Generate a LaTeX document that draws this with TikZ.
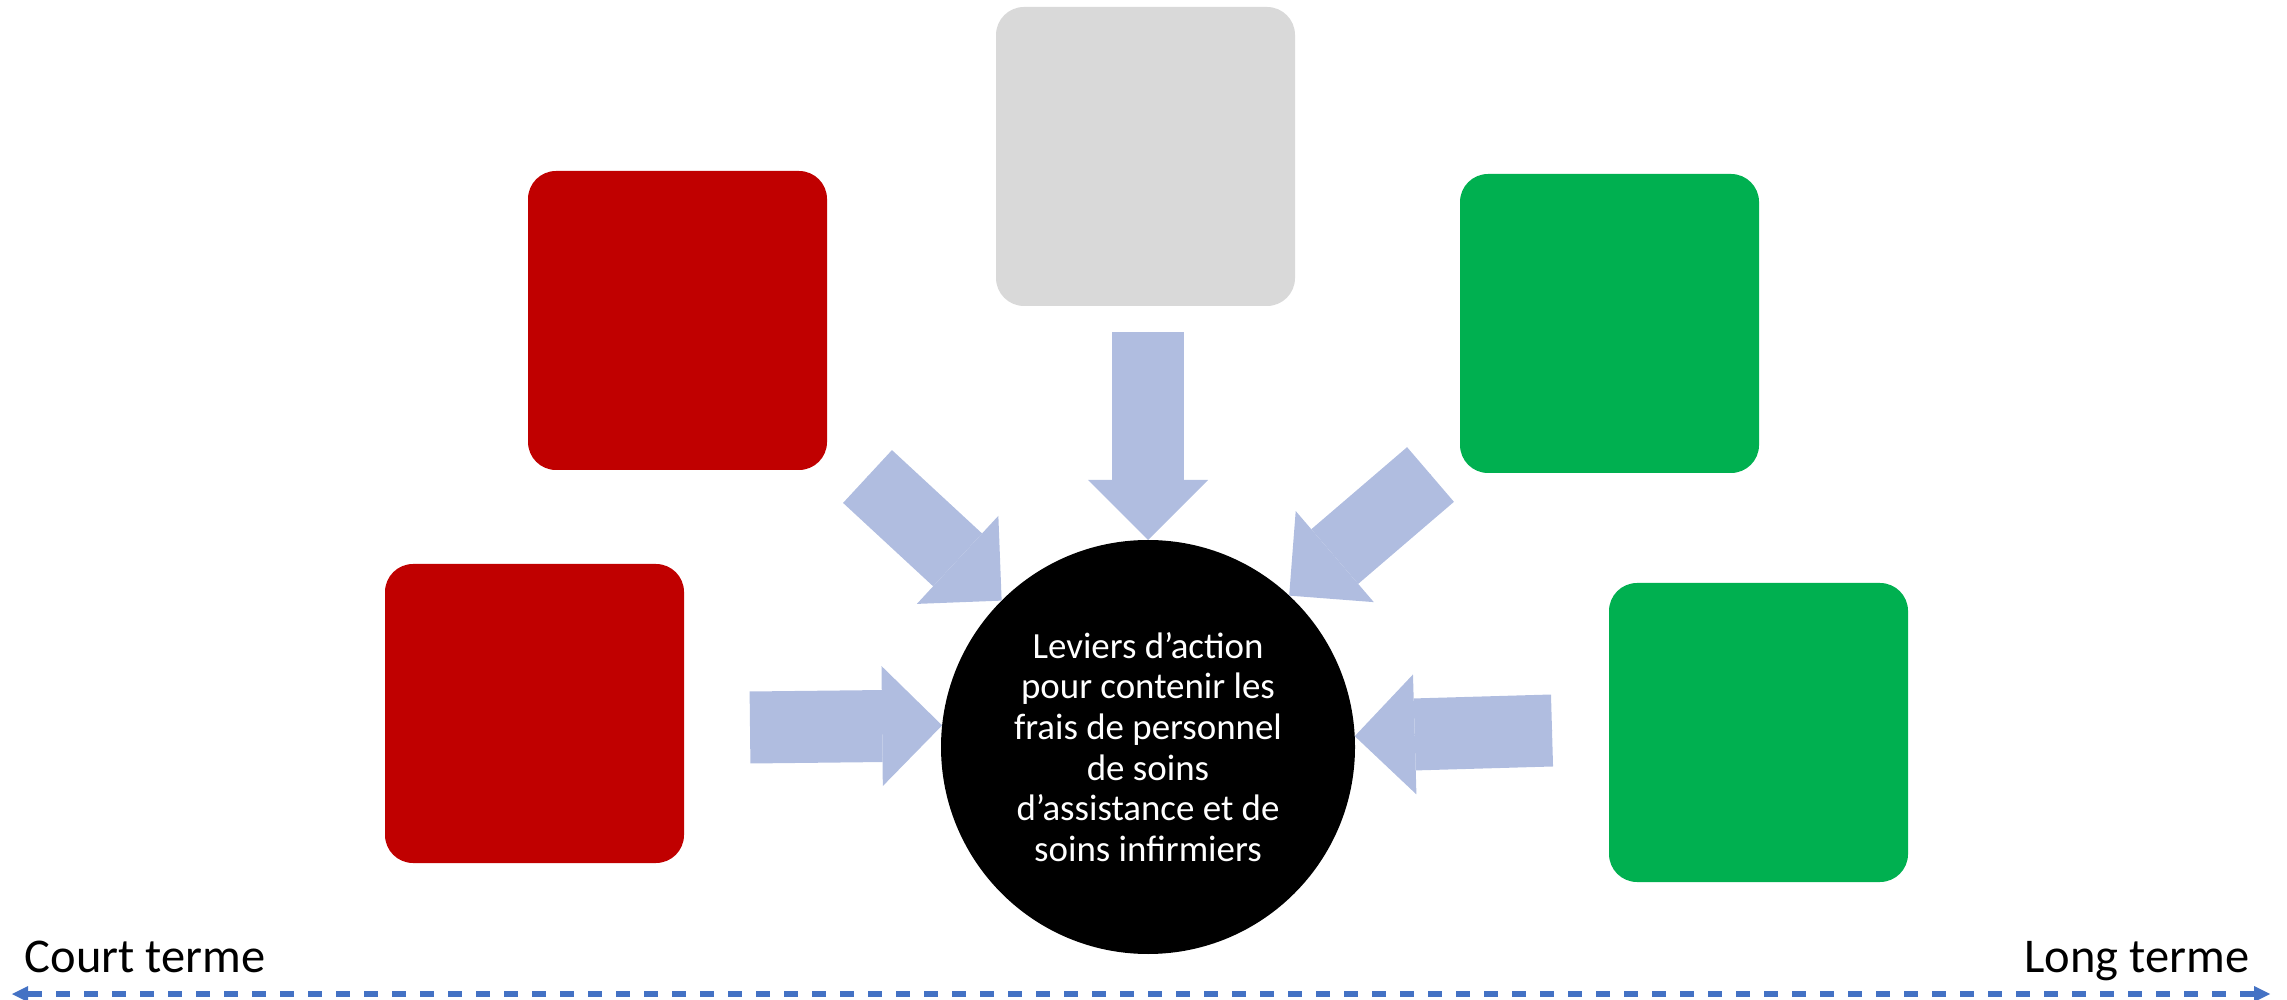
\documentclass[tikz,border=0pt]{standalone}
\usepackage{fontspec}
\setmainfont{Carlito}
\usetikzlibrary{arrows.meta}

\definecolor{rougeF}{HTML}{C00000}
\definecolor{grisF}{HTML}{D9D9D9}
\definecolor{vertF}{HTML}{00B050}
\definecolor{levierF}{HTML}{B0BDE0}
\definecolor{tempsF}{HTML}{4472C4}

\begin{document}
\begin{tikzpicture}[
    bloc/.style={rounded corners=0.28cm, minimum size=2.99cm, inner sep=0pt},
    levier/.style={draw=levierF, line width=0.72cm,
      preaction={draw=levierF, -, shorten >=0.5cm},
      -{Triangle[length=0.6cm, width=1.2cm, line width=0pt]}},
  ]
  \useasboundingbox (0,0) rectangle (22.87,-10);

  % les cinq blocs
  \node[bloc, fill=rougeF] (rouge1) at (6.775,-3.205) {};
  \node[bloc, fill=rougeF] (rouge2) at (5.345,-7.135) {};
  \node[bloc, fill=grisF] (neutre) at (11.455,-1.565) {};
  \node[bloc, fill=vertF] (vert1) at (16.095,-3.235) {};
  \node[bloc, fill=vertF] (vert2) at (17.585,-7.325) {};

  % le cercle central
  \node[circle, fill=black, minimum size=4.14cm, inner sep=0pt, outer sep=0pt,
    text=white, align=center, font=\fontsize{10.5}{11.55}\selectfont]
    (centre) at (11.48,-7.47)
    {Leviers d’action\\pour contenir les\\frais de personnel\\de soins\\d’assistance et de\\soins infirmiers};

  % les fleches
  \coordinate (q-neutre) at (11.48,-3.32);
  \coordinate (q-rouge1) at (8.675,-4.765);
  \coordinate (q-rouge2) at (7.50,-7.275);
  \coordinate (q-vert1) at (14.305,-4.745);
  \coordinate (q-vert2) at (15.52,-7.305);
  \draw[levier] (q-neutre) -- (centre.90);
  \draw[levier] (q-rouge1) -- (centre.135.4);
  \draw[levier] (q-rouge2) -- (centre.174.6);
  \draw[levier] (q-vert1) -- (centre.47.9);
  \draw[levier] (q-vert2) -- (centre.3.3);

  % l'axe du temps
  \coordinate (debut) at (0.12,-9.94);
  \coordinate (fin) at (22.70,-9.94);
  \draw[tempsF, line width=0.06cm, dash pattern=on 0.14cm off 0.14cm,
    {Triangle[length=0.16cm, width=0.16cm, line width=0pt]}-{Triangle[length=0.16cm, width=0.16cm, line width=0pt]}]
    (debut) -- (fin);
  \node[anchor=base west, font=\fontsize{13.8}{16}\selectfont, inner sep=0pt] (court) at (0.24,-9.72) {Court terme};
  \node[anchor=base east, font=\fontsize{13.8}{16}\selectfont, inner sep=0pt] (long) at (22.50,-9.72) {Long terme};
\end{tikzpicture}
\end{document}
